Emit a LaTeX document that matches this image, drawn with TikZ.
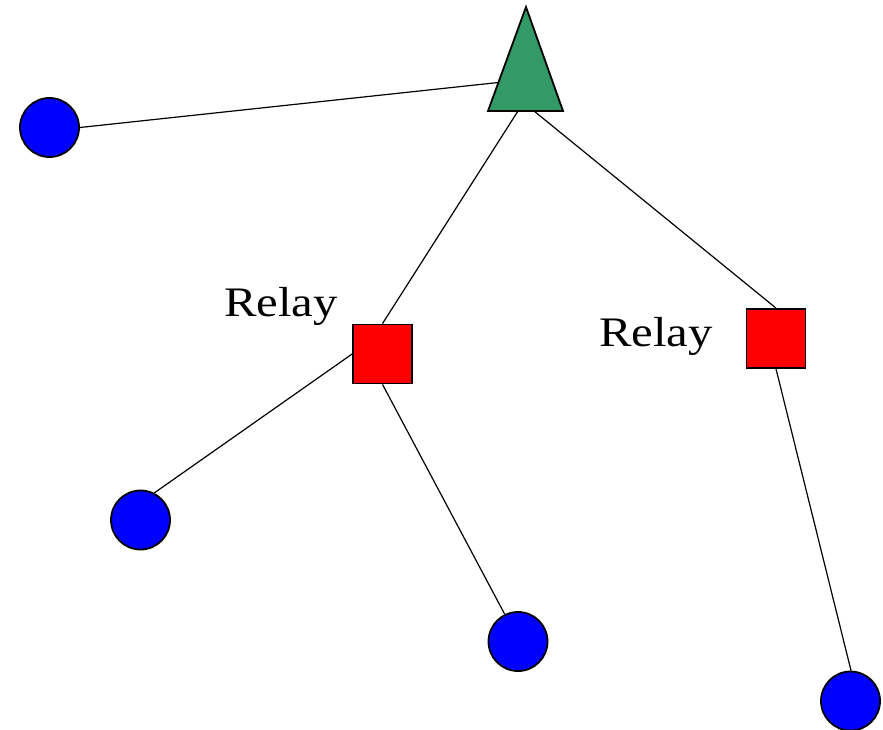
\documentclass[tikz,border=0pt]{standalone}
\usepackage{fontspec}
\setmainfont{Liberation Serif}
\usetikzlibrary{backgrounds}
\definecolor{trigreen}{RGB}{51,153,102}
\begin{document}
\begin{tikzpicture}[x=1pt,y=-1pt,
  hostnode/.style={circle,draw=black,fill=blue,line width=1.8pt,minimum size=59pt,inner sep=0pt},
  relaynode/.style={rectangle,draw=black,fill=red,line width=1.8pt,minimum size=59pt,inner sep=0pt},
  link/.style={draw=black,line width=1.2pt},
  lbl/.style={anchor=base west,inner sep=0pt,font=\fontsize{42}{46}\selectfont}]
\useasboundingbox (0,0) rectangle (883,730);
% root triangle
\coordinate (tapex) at (526,7);
\coordinate (tbl) at (488,111);
\coordinate (tbr) at (563,111);
\coordinate (tin) at (503,82);
\coordinate (tbase1) at (518,111);
\coordinate (tbase2) at (534,111);
\draw[fill=trigreen,line width=1.8pt,line join=miter] (tapex) -- (tbr) -- (tbl) -- cycle;
% relays
\node[relaynode] (r1) at (382.5,354) {};
\node[relaynode] (r2) at (776,338.5) {};
% hosts
\node[hostnode] (h1) at (49.5,127.5) {};
\node[hostnode] (h2) at (140.5,520) {};
\node[hostnode] (h3) at (518,641.5) {};
\node[hostnode] (h4) at (850.5,701) {};
% labels
\node[lbl] (l1) at (224,316) {\scalebox{1.16}[1]{Relay}};
\node[lbl] (l2) at (599,346) {\scalebox{1.16}[1]{Relay}};
% links
\begin{scope}[on background layer]
\draw[link] (h1.east) -- (tin);
\draw[link] (tbase1) -- (r1.north);
\draw[link] (tbase2) -- (r2.north);
\draw[link] (r1.west) -- (h2.63);
\draw[link] (r1.south) -- (h3.116);
\draw[link] (r2.south) -- (h4.89);
\end{scope}
\end{tikzpicture}
\end{document}
